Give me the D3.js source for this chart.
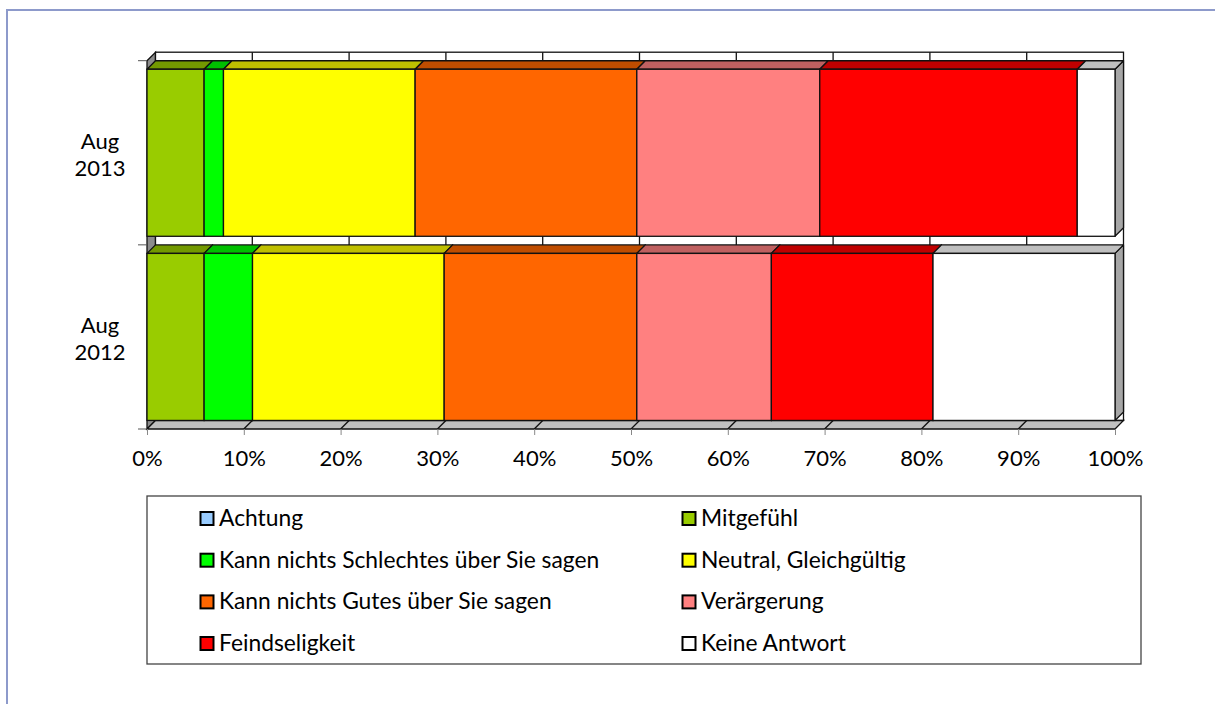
<!DOCTYPE html>
<html><head><meta charset="utf-8">
<script src="https://cdn.jsdelivr.net/npm/d3@7"></script>
<style>
body{margin:0;background:#fff}
svg{display:block}
text{font-family:Lato,'Noto Sans',sans-serif;fill:#000}
</style>
</head><body>
<svg id="c" width="1215" height="704"></svg>
<script>
// ---- data ----
const categories = ["Aug 2013", "Aug 2012"];
const seriesNames = ["Achtung", "Mitgefühl", "Kann nichts Schlechtes über Sie sagen", "Neutral, Gleichgültig",
  "Kann nichts Gutes über Sie sagen", "Verärgerung", "Feindseligkeit", "Keine Antwort"];
const seriesColors = ["#99CCFF", "#99CC00", "#00FF00", "#FFFF00", "#FF6600", "#FF8080", "#FF0000", "#FFFFFF"];
const achtung = [0, 0];
const mitgefuehl = [5.9, 5.9];
const kannNichtsSchlechtes = [2.0, 5.0];
const neutral = [19.8, 19.8];
const kannNichtsGutes = [22.9, 19.9];
const veraergerung = [18.9, 13.9];
const feindseligkeit = [26.6, 16.7];
const keineAntwort = [3.9, 18.8];
const xTicks = [0, 10, 20, 30, 40, 50, 60, 70, 80, 90, 100];

const seriesValues = [achtung, mitgefuehl, kannNichtsSchlechtes, neutral, kannNichtsGutes, veraergerung, feindseligkeit, keineAntwort];
const table = categories.map((c, i) => {
  const row = {category: c};
  seriesNames.forEach((s, j) => row[s] = seriesValues[j][i]);
  return row;
});

// ---- layout ----
const svg = d3.select("#c");
const X0 = 147, X1 = 1115, Y0 = 60.7, Y1 = 429, D = 8.5;
const x = d3.scaleLinear().domain([0, 100]).range([X0, X1]);
const y = d3.scaleBand().domain(categories).range([Y0, Y1]).paddingInner(0.093).paddingOuter(0.0465);
const shade = (c, k) => { const r = d3.rgb(c); return d3.rgb(r.r * k, r.g * k, r.b * k).formatHex(); };
const poly = pts => pts.map(p => p.join(",")).join(" ");
const STK = "#111", SW = 1.3;

// outer frame
svg.append("path").attr("d", `M7,710 L7,10 L1220,10`).attr("fill", "none").attr("stroke", "#8d9acb").attr("stroke-width", 2);

// left wall
svg.append("polygon").attr("points", poly([[X0, Y0], [X0 + D, Y0 - D], [X0 + D, Y1 - D], [X0, Y1]]))
  .attr("fill", "#8c8c8c").attr("stroke", STK).attr("stroke-width", SW);
// back wall
svg.append("rect").attr("x", X0 + D).attr("y", Y0 - D).attr("width", X1 - X0).attr("height", Y1 - Y0)
  .attr("fill", "#fff").attr("stroke", STK).attr("stroke-width", SW);
svg.append("g").selectAll("line").data(xTicks.slice(1, -1)).join("line")
  .attr("x1", d => x(d) + D).attr("x2", d => x(d) + D).attr("y1", Y0 - D).attr("y2", Y1 - D)
  .attr("stroke", STK).attr("stroke-width", SW);
// floor
svg.append("polygon").attr("points", poly([[X0, Y1], [X1, Y1], [X1 + D, Y1 - D], [X0 + D, Y1 - D]]))
  .attr("fill", "#c0c0c0").attr("stroke", STK).attr("stroke-width", SW);
svg.append("g").selectAll("line").data(xTicks.slice(1, -1)).join("line")
  .attr("x1", d => x(d)).attr("x2", d => x(d) + D).attr("y1", Y1).attr("y2", Y1 - D)
  .attr("stroke", STK).attr("stroke-width", SW);

// bars
const stack = d3.stack().keys(seriesNames)(table);
const gBars = svg.append("g");
categories.forEach((cat, ci) => {
  const top = y(cat), bot = y(cat) + y.bandwidth();
  stack.forEach((layer, si) => {
    const seg = layer[ci];
    const a = x(seg[0]), b = x(seg[1]);
    if (b - a < 0.01) return;
    const col = seriesColors[si];
    gBars.append("polygon").attr("points", poly([[b, top], [b + D, top - D], [b + D, bot - D], [b, bot]]))
      .attr("fill", shade(col, 0.65)).attr("stroke", STK).attr("stroke-width", SW).attr("stroke-linejoin", "round");
    gBars.append("polygon").attr("points", poly([[a, top], [a + D, top - D], [b + D, top - D], [b, top]]))
      .attr("fill", shade(col, 0.75)).attr("stroke", STK).attr("stroke-width", SW).attr("stroke-linejoin", "round");
    gBars.append("rect").attr("x", a).attr("y", top).attr("width", b - a).attr("height", bot - top)
      .attr("fill", col).attr("stroke", STK).attr("stroke-width", SW);
  });
});

// category ticks
const catTicks = [Y0, (Y0 + Y1) / 2, Y1];
svg.append("g").selectAll("line").data(catTicks).join("line")
  .attr("x1", X0 - 9).attr("x2", X0).attr("y1", d => d).attr("y2", d => d)
  .attr("stroke", "#555").attr("stroke-width", 1);

// x axis
const xAxis = svg.append("g").attr("transform", `translate(0,${Y1})`)
  .call(d3.axisBottom(x).tickValues(xTicks).tickFormat(d => d + "%").tickSize(6).tickPadding(15));
xAxis.select(".domain").remove();
xAxis.selectAll(".tick line").attr("stroke", "#888");
xAxis.selectAll(".tick text").attr("font-size", 22).attr("font-family", "Lato,'Noto Sans',sans-serif").attr("fill", "#000");

// y labels
categories.forEach(cat => {
  const cy = y(cat) + y.bandwidth() / 2;
  const parts = cat.split(" ");
  const t = svg.append("text").attr("text-anchor", "middle").attr("font-size", 22);
  t.append("tspan").attr("x", 100).attr("y", cy - 4).text(parts[0]);
  t.append("tspan").attr("x", 100).attr("y", cy + 23.5).text(parts[1]);
});

// legend
svg.append("rect").attr("x", 147).attr("y", 496).attr("width", 994).attr("height", 168)
  .attr("fill", "#fff").attr("stroke", "#444").attr("stroke-width", 1.3);
const legCols = [200, 682], legRows = [526, 567.7, 609.4, 651];
const lg = svg.append("g").selectAll("g").data(seriesNames).join("g")
  .attr("transform", (d, i) => `translate(${legCols[i % 2]},${legRows[Math.floor(i / 2)]})`);
lg.append("rect").attr("x", 0.5).attr("y", -14).attr("width", 13).attr("height", 13)
  .attr("fill", (d, i) => seriesColors[i]).attr("stroke", "#000").attr("stroke-width", 2);
lg.append("text").attr("x", 19).attr("y", 0).attr("font-size", 22.8).text(d => d);
</script>
</body></html>
